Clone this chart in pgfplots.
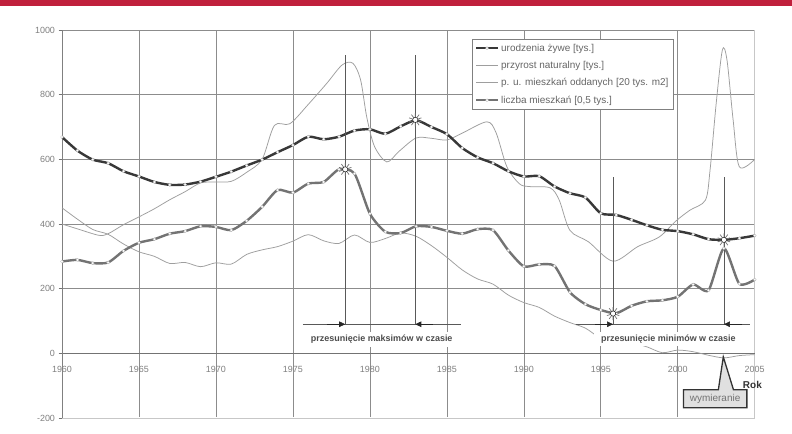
\documentclass[border=0pt]{standalone}
\usepackage{pgfplots}
\pgfplotsset{compat=1.18}
\usepackage{fontspec}
\setmainfont{Liberation Sans}
\usetikzlibrary{plotmarks,arrows.meta}
\definecolor{banner}{RGB}{192,32,60}
\begin{document}
\begin{tikzpicture}
\useasboundingbox (0bp,0bp) rectangle (792bp,434bp);
\fill[white] (0bp,0bp) rectangle (792bp,434bp);
\fill[banner] (0bp,427.5bp) rectangle (792bp,434bp);
\begin{axis}[
 at={(62bp,16bp)}, anchor=south west, scale only axis,
 width=692.7bp, height=388bp,
 xmin=1960, xmax=2005, ymin=-200, ymax=1000,
 xtick={1960,1965,...,2005}, ytick={-200,0,...,1000},
 grid=major, major grid style={black!45, line width=0.6bp},
 axis line style={draw=none},
 tick pos=left,
 xtick style={draw=none},
 ytick style={black!55, line width=0.6bp},
 tick align=outside, major tick length=3.5bp,
 tick label style={font=\fontsize{9}{10}\selectfont, text=black!50},
 /pgf/number format/assume math mode=true,
 /pgf/number format/1000 sep={},
 x tick label style={yshift=58.5bp},
 clip=false,
 legend style={at={(rel axis cs:0.5919,0.9768)}, anchor=north west,
   draw=black!50, line width=0.6bp, font=\fontsize{10}{12}\selectfont,
   text=black!60, row sep=4.6bp, inner sep=2.5bp},
 legend cell align=left,
 legend image code/.code={\draw[#1, mark repeat=2, mark phase=2] plot coordinates {(0bp,0bp) (11bp,0bp) (22bp,0bp)};},
 births/.style={draw=black!78, line width=2.4bp, mark=*, mark size=1.5bp, mark options={fill=white, draw=black!30, line width=0.3bp}},
 liczba/.style={draw=black!55, line width=2.4bp, mark=*, mark size=1.5bp, mark options={fill=white, draw=black!30, line width=0.3bp}},
 thin/.style={draw=black!38, line width=0.75bp},
]
% lighter border lines
\draw[white, line width=1.2bp] (axis cs:1960,-200) -- (axis cs:2005,-200) -- (axis cs:2005,1000);
\draw[black!22, line width=0.6bp] (axis cs:1960,-200) -- (axis cs:2005,-200) -- (axis cs:2005,1000);
\draw[black!55, line width=0.9bp] (axis cs:1960,0) -- (axis cs:2005,0);
\draw[black!50, line width=0.7bp] (axis cs:1960,-200) -- (axis cs:1960,1000);

% przyrost naturalny
\addplot[thin, smooth, tension=0.5, forget plot] coordinates {
(1960,450)(1961,415)(1962,383)(1963,368)(1964,338)(1965,314)(1966,300)(1967,278)(1968,281)(1969,268)
(1970,280)(1971,276)(1972,306)(1973,320)(1974,330)(1975,347)(1976,367)(1977,348)(1978,340)(1979,366)
(1980,343)(1981,355)(1982,372)(1983,362)(1984,333)(1985,297)(1986,258)(1987,230)(1988,214)(1989,180)
(1990,157)(1991,142)(1992,115)(1993,95)(1994,78)(1995,47)(1996,42)(1997,33)(1998,20)(1999,2)
(2000,10)(2001,5)(2002,-6)(2003,-14)(2004,-7)(2005,-4)};

% p. u. mieszkan oddanych
\addplot[thin, smooth, tension=0.5, forget plot] coordinates {
(1960,400)(1961,385)(1962.4,365)(1963,370)(1964,398)(1965,422)(1966,447)(1967,475)(1968,500)(1969,527)
(1970,530)(1971,532)(1972,560)(1973,600)(1973.8,705)(1974.8,710)(1976,770)(1977.2,835)(1978.2,892)
(1978.9,897)(1979.4,845)(1979.8,730)(1980.3,640)(1981.1,592)(1981.9,625)(1983,666)(1984,665)(1985,660)
(1986,681)(1987.6,716)(1988.2,682)(1988.9,577)(1989.7,525)(1990.3,516)(1991.7,512)(1992.3,474)
(1993,380)(1994.2,345)(1995.8,285)(1997.4,330)(1998.8,360)(1999.9,410)(2000.8,443)(2001.8,474)
(2002.1,567)(2002.5,774)(2002.9,938)(2003.2,907)(2003.6,721)(2004,577)(2005,600)};

% liczba mieszkan
\addplot[liczba, smooth, tension=0.4, forget plot] coordinates {
(1960,284)(1961,289)(1962,279)(1963,281)(1964,317)(1965,342)(1966,353)(1967,370)(1968,378)(1969,393)
(1970,391)(1971,381)(1972,410)(1973,453)(1974,505)(1975,497)(1976,525)(1977,530)(1978,569)(1979,556)
(1980,432)(1981,376)(1982,372)(1983,393)(1984,391)(1985,379)(1986,370)(1987,384)(1988,381)(1989,318)
(1990,269)(1991,275)(1992,270)(1993,189)(1994,152)(1995,134)(1996,124)(1997,147)(1998,161)(1999,164)
(2000,175)(2001,213)(2002,195)(2003,325)(2004,215)(2005,228)};

% urodzenia zywe
\addplot[births, smooth, tension=0.4, forget plot] coordinates {
(1960,669)(1961,627)(1962,599)(1963,588)(1964,563)(1965,547)(1966,530)(1967,521)(1968,522)(1969,531)
(1970,546)(1971,562)(1972,581)(1973,599)(1974,622)(1975,644)(1976,670)(1977,662)(1978,670)(1979,689)
(1980,693)(1981,679)(1982,702)(1983,721)(1984,700)(1985,678)(1986,635)(1987,606)(1988,588)(1989,563)
(1990,547)(1991,548)(1992,516)(1993,495)(1994,482)(1995,433)(1996,428)(1997,413)(1998,396)(1999,382)
(2000,378)(2001,368)(2002,353)(2003,351)(2004,356)(2005,364)};

% stars at extremes
\addplot[only marks, mark=10-pointed star, mark size=6.5bp, mark options={fill=white, draw=black!55, line width=0.7bp}, forget plot]
 coordinates {(1978.4,569)(1982.95,722)(1995.8,123)(2003,351)};
\addplot[only marks, mark=*, mark size=2.6bp, mark options={fill=white, draw=none}, forget plot]
 coordinates {(1978.4,569)(1982.95,722)(1995.8,123)(2003,351)};

% shift annotations
\draw[black!65, line width=0.6bp] (axis cs:1978.4,90) -- (axis cs:1978.4,923);
\draw[black!65, line width=0.6bp] (axis cs:1982.95,90) -- (axis cs:1982.95,923);
\draw[black!65, line width=0.6bp] (axis cs:1995.8,90) -- (axis cs:1995.8,546);
\draw[black!65, line width=0.6bp] (axis cs:2003,90) -- (axis cs:2003,546);
\draw[black!65, line width=0.6bp] (axis cs:1975.65,90) -- (axis cs:1985.95,90);
\draw[black!65, line width=0.6bp] (axis cs:1993.4,90) -- (axis cs:2004.7,90);
\draw[black!85, line width=0.6bp, -{Triangle[length=6bp,width=5.5bp]}] (axis cs:1977.2,90) -- (axis cs:1978.4,90);
\draw[black!85, line width=0.6bp, -{Triangle[length=6bp,width=5.5bp]}] (axis cs:1984.1,90) -- (axis cs:1982.95,90);
\draw[black!85, line width=0.6bp, -{Triangle[length=6bp,width=5.5bp]}] (axis cs:1994.6,90) -- (axis cs:1995.8,90);
\draw[black!85, line width=0.6bp, -{Triangle[length=6bp,width=5.5bp]}] (axis cs:2004.2,90) -- (axis cs:2003,90);

\node[fill=white, inner sep=0pt, minimum width=165bp, minimum height=15bp,
  font=\bfseries\fontsize{9}{10}\selectfont, text=black!70] at (axis cs:1980.77,43) {przesunięcie maksimów w czasie};
\node[fill=white, inner sep=0pt, minimum width=148bp, minimum height=14bp,
  font=\bfseries\fontsize{9}{10}\selectfont, text=black!70] at (axis cs:1999.39,43) {przesunięcie minimów w czasie};

\node[font=\bfseries\fontsize{10}{12}\selectfont, text=black!80] at (axis cs:2004.85,-99) {Rok};

\draw[black!80, line width=1.3bp, fill=black!12, line join=miter]
 (axis cs:2000.37,-112.4) -- (axis cs:2002.64,-112.4) -- (axis cs:2002.96,-11) -- (axis cs:2003.62,-112.4)
 -- (axis cs:2004.49,-112.4) -- (axis cs:2004.49,-168) -- (axis cs:2000.37,-168) -- cycle;
\node[font=\fontsize{10}{12}\selectfont, text=black!55] at (axis cs:2002.43,-140) {wymieranie};

\addlegendimage{births}
\addlegendentry{urodzenia żywe [tys.]}
\addlegendimage{thin}
\addlegendentry{przyrost naturalny [tys.]}
\addlegendimage{thin}
\addlegendentry{p. u. mieszkań oddanych [20 tys. m2]\hspace{12bp}}
\addlegendimage{liczba}
\addlegendentry{liczba mieszkań [0,5 tys.]}
\end{axis}
\end{tikzpicture}
\end{document}
